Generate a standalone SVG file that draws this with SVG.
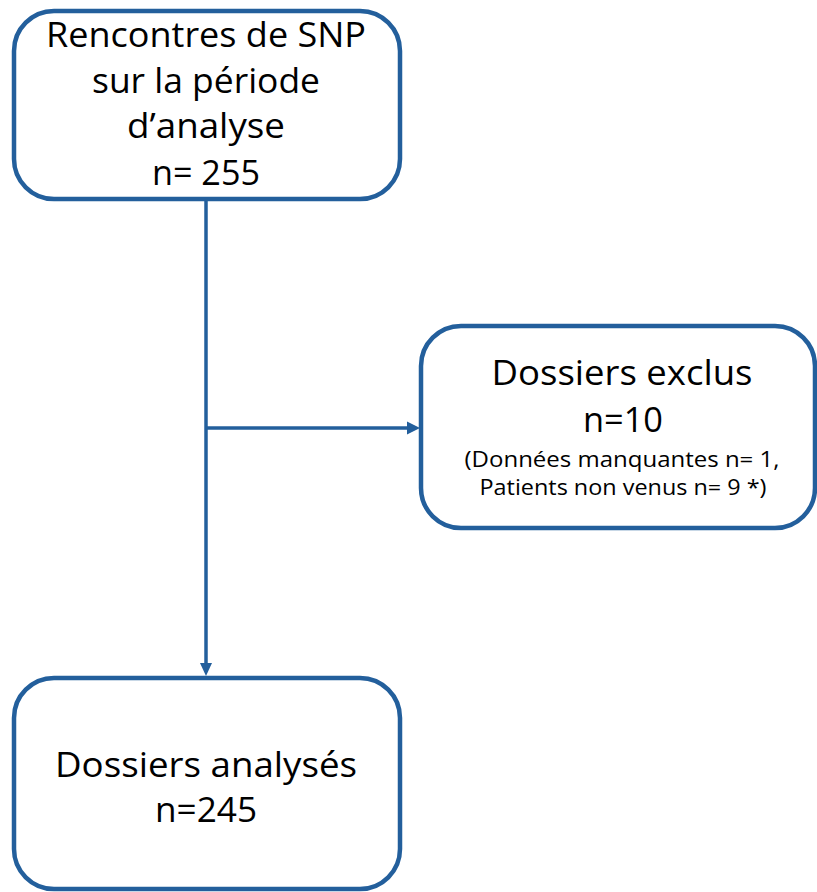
<svg xmlns="http://www.w3.org/2000/svg" width="817" height="892" viewBox="0 0 817 892">
<style>
.box{fill:#fff;stroke:#235f9c;stroke-width:4.5}
.conn{fill:none;stroke:#235f9c;stroke-width:3.5}
.head{fill:#235f9c}
text{font-family:"Open Sans","Liberation Sans",sans-serif;fill:#000;text-anchor:middle}
.big{font-size:34px}
.small{font-size:21.5px}
</style>
<g id="connectors">
<line class="conn" x1="206" y1="199" x2="206" y2="665"/>
<path class="head" d="M200,663 L212,663 L206,676 z"/>
<line class="conn" x1="206" y1="428" x2="409" y2="428"/>
<path class="head" d="M407,421.5 L420,428 L407,434.5 z"/>
</g>
<g id="node-rencontres">
<rect class="box" x="14" y="11" width="386" height="188" rx="40"/>
<text class="big" x="206" y="47" textLength="320" lengthAdjust="spacingAndGlyphs">Rencontres de SNP</text>
<text class="big" x="206" y="93" textLength="228" lengthAdjust="spacingAndGlyphs">sur la période</text>
<text class="big" x="206" y="138" textLength="158" lengthAdjust="spacingAndGlyphs">d’analyse</text>
<text class="big" x="206" y="185" textLength="108" lengthAdjust="spacingAndGlyphs">n= 255</text>
</g>
<g id="node-exclus">
<rect class="box" x="421" y="326" width="394" height="202" rx="40"/>
<text class="big" x="622" y="385" textLength="261" lengthAdjust="spacingAndGlyphs">Dossiers exclus</text>
<text class="big" x="623" y="432" textLength="80" lengthAdjust="spacingAndGlyphs">n=10</text>
<text class="small" x="622" y="467" textLength="315" lengthAdjust="spacingAndGlyphs">(Données manquantes n= 1,</text>
<text class="small" x="623" y="495" textLength="287" lengthAdjust="spacingAndGlyphs">Patients non venus n= 9 *)</text>
</g>
<g id="node-analyses">
<rect class="box" x="14" y="678" width="386" height="211" rx="40"/>
<text class="big" x="206" y="777" textLength="302" lengthAdjust="spacingAndGlyphs">Dossiers analysés</text>
<text class="big" x="206" y="822" textLength="102" lengthAdjust="spacingAndGlyphs">n=245</text>
</g>
</svg>
